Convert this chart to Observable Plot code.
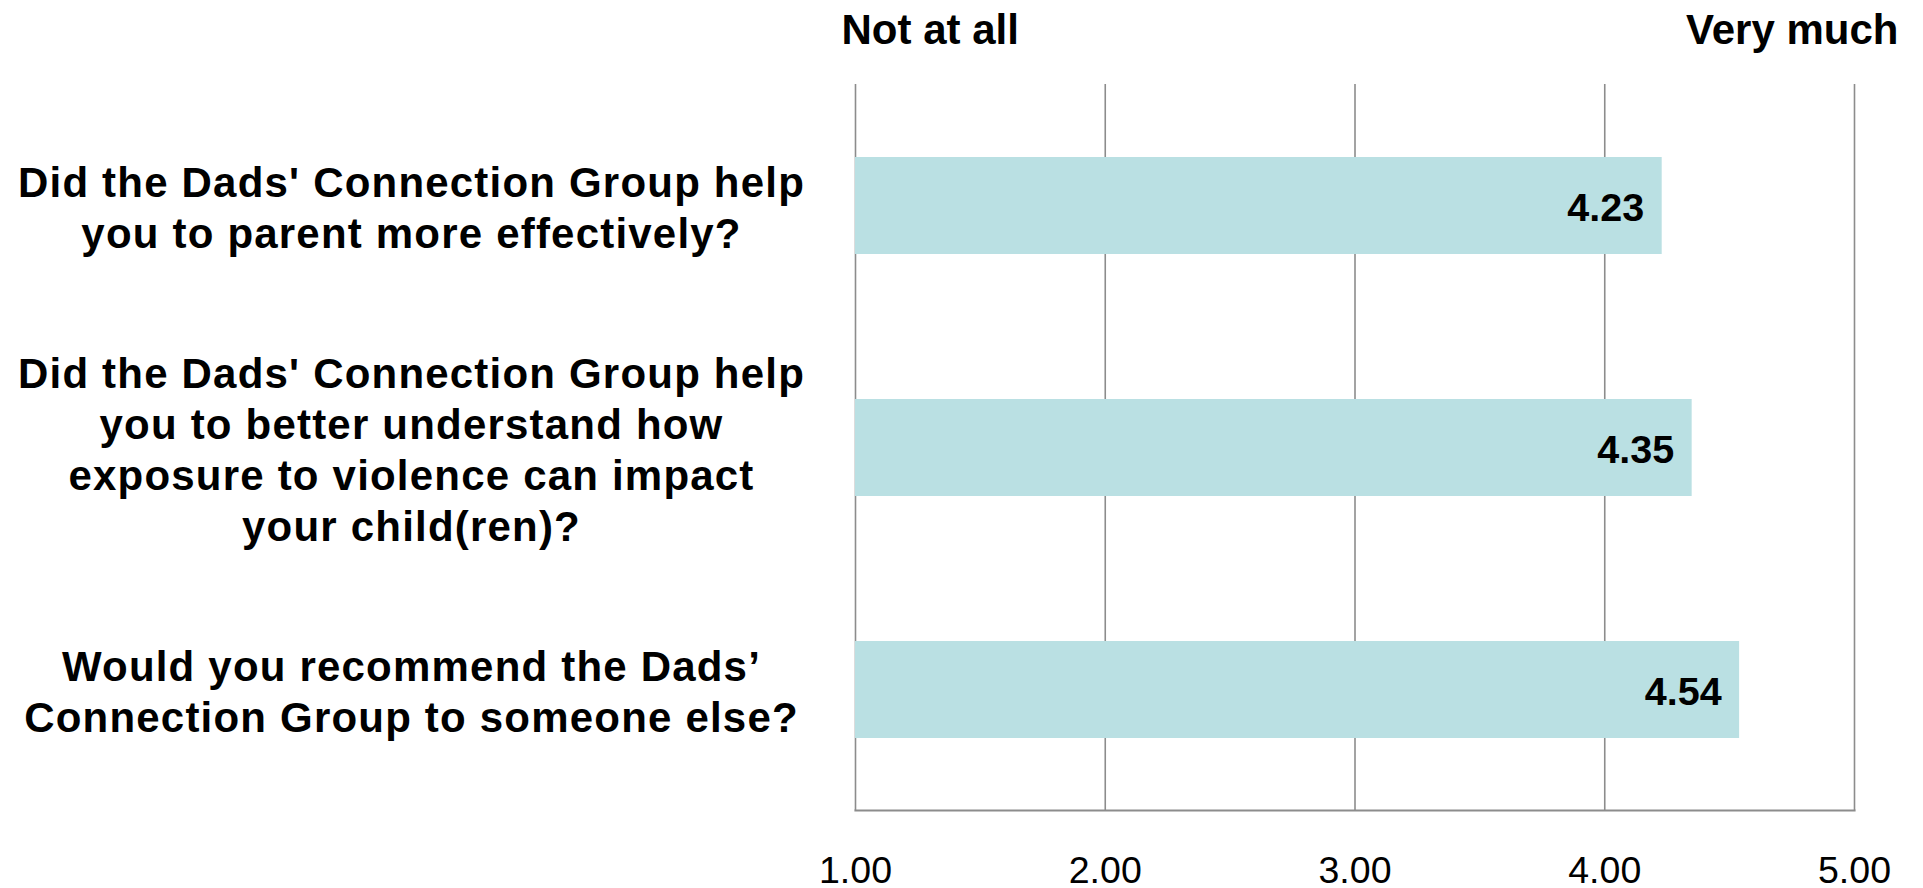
<!DOCTYPE html>
<html>
<head>
<meta charset="utf-8">
<script src="https://cdn.jsdelivr.net/npm/d3@7"></script>
<script src="https://cdn.jsdelivr.net/npm/@observablehq/plot@0.6"></script>
<style>
  html, body { margin: 0; padding: 0; background: #fff; }
  #chart svg { display: block; }
  g[aria-description="question-labels"] text { letter-spacing: 1.2px; }
</style>
</head>
<body>
<div id="chart"></div>
<script>
// Data
const questions = [
  "Did the Dads' Connection Group help\nyou to parent more effectively?",
  "Did the Dads' Connection Group help\nyou to better understand how\nexposure to violence can impact\nyour child(ren)?",
  "Would you recommend the Dads’\nConnection Group to someone else?"
];
const scores = [4.23, 4.35, 4.54];
const xTicks = [1, 2, 3, 4, 5];
const scaleLabels = ["Not at all", "Very much"];

const rows = questions.map((q, i) => ({question: q, score: scores[i]}));
const font = "'Liberation Sans', Arial, Helvetica, sans-serif";

const chart = Plot.plot({
  width: 1923,
  height: 888,
  marginLeft: 855,
  marginRight: 69,
  marginTop: 84,
  marginBottom: 78,
  style: {fontFamily: font, color: "#000", background: "#fff"},
  x: {domain: [1, 5], ticks: xTicks, tickFormat: d3.format(".2f"), label: null},
  y: {domain: questions, paddingInner: 0.6, paddingOuter: 0.3, axis: null, label: null},
  marks: [
    Plot.gridX(xTicks, {stroke: "#8c8c8c", strokeOpacity: 1, strokeWidth: 1.6}),
    Plot.frame({anchor: "bottom", stroke: "#8c8c8c", strokeWidth: 2.2}),
    Plot.axisX(xTicks, {
      tickSize: 0, tickPadding: 46, fontSize: 37.5, fontWeight: "normal",
      tickFormat: d3.format(".2f"), fill: "#000", label: null
    }),
    Plot.barX(rows, {x1: 1, x2: "score", y: "question", fill: "#bae0e3"}),
    Plot.text(rows, {
      x: "score", y: "question", text: d => d.score.toFixed(2),
      textAnchor: "end", dx: -18, dy: 2, fontSize: 39.5, fontWeight: "bold", fill: "#000"
    }),
    Plot.text(rows, {
      y: "question", text: "question", frameAnchor: "left", dx: -444,
      textAnchor: "middle", lineHeight: 1.22, fontSize: 42, fontWeight: "bold",
      fill: "#000", ariaDescription: "question-labels"
    }),
    Plot.text([scaleLabels[0]], {
      text: d => d, frameAnchor: "top-left", textAnchor: "start", lineAnchor: "bottom",
      dx: -14, dy: -41, fontSize: 42, fontWeight: "bold", fill: "#000"
    }),
    Plot.text([scaleLabels[1]], {
      text: d => d, frameAnchor: "top-right", textAnchor: "end", lineAnchor: "bottom",
      dx: 44, dy: -41, fontSize: 42, fontWeight: "bold", fill: "#000"
    })
  ]
});
document.getElementById("chart").appendChild(chart);
</script>
</body>
</html>
